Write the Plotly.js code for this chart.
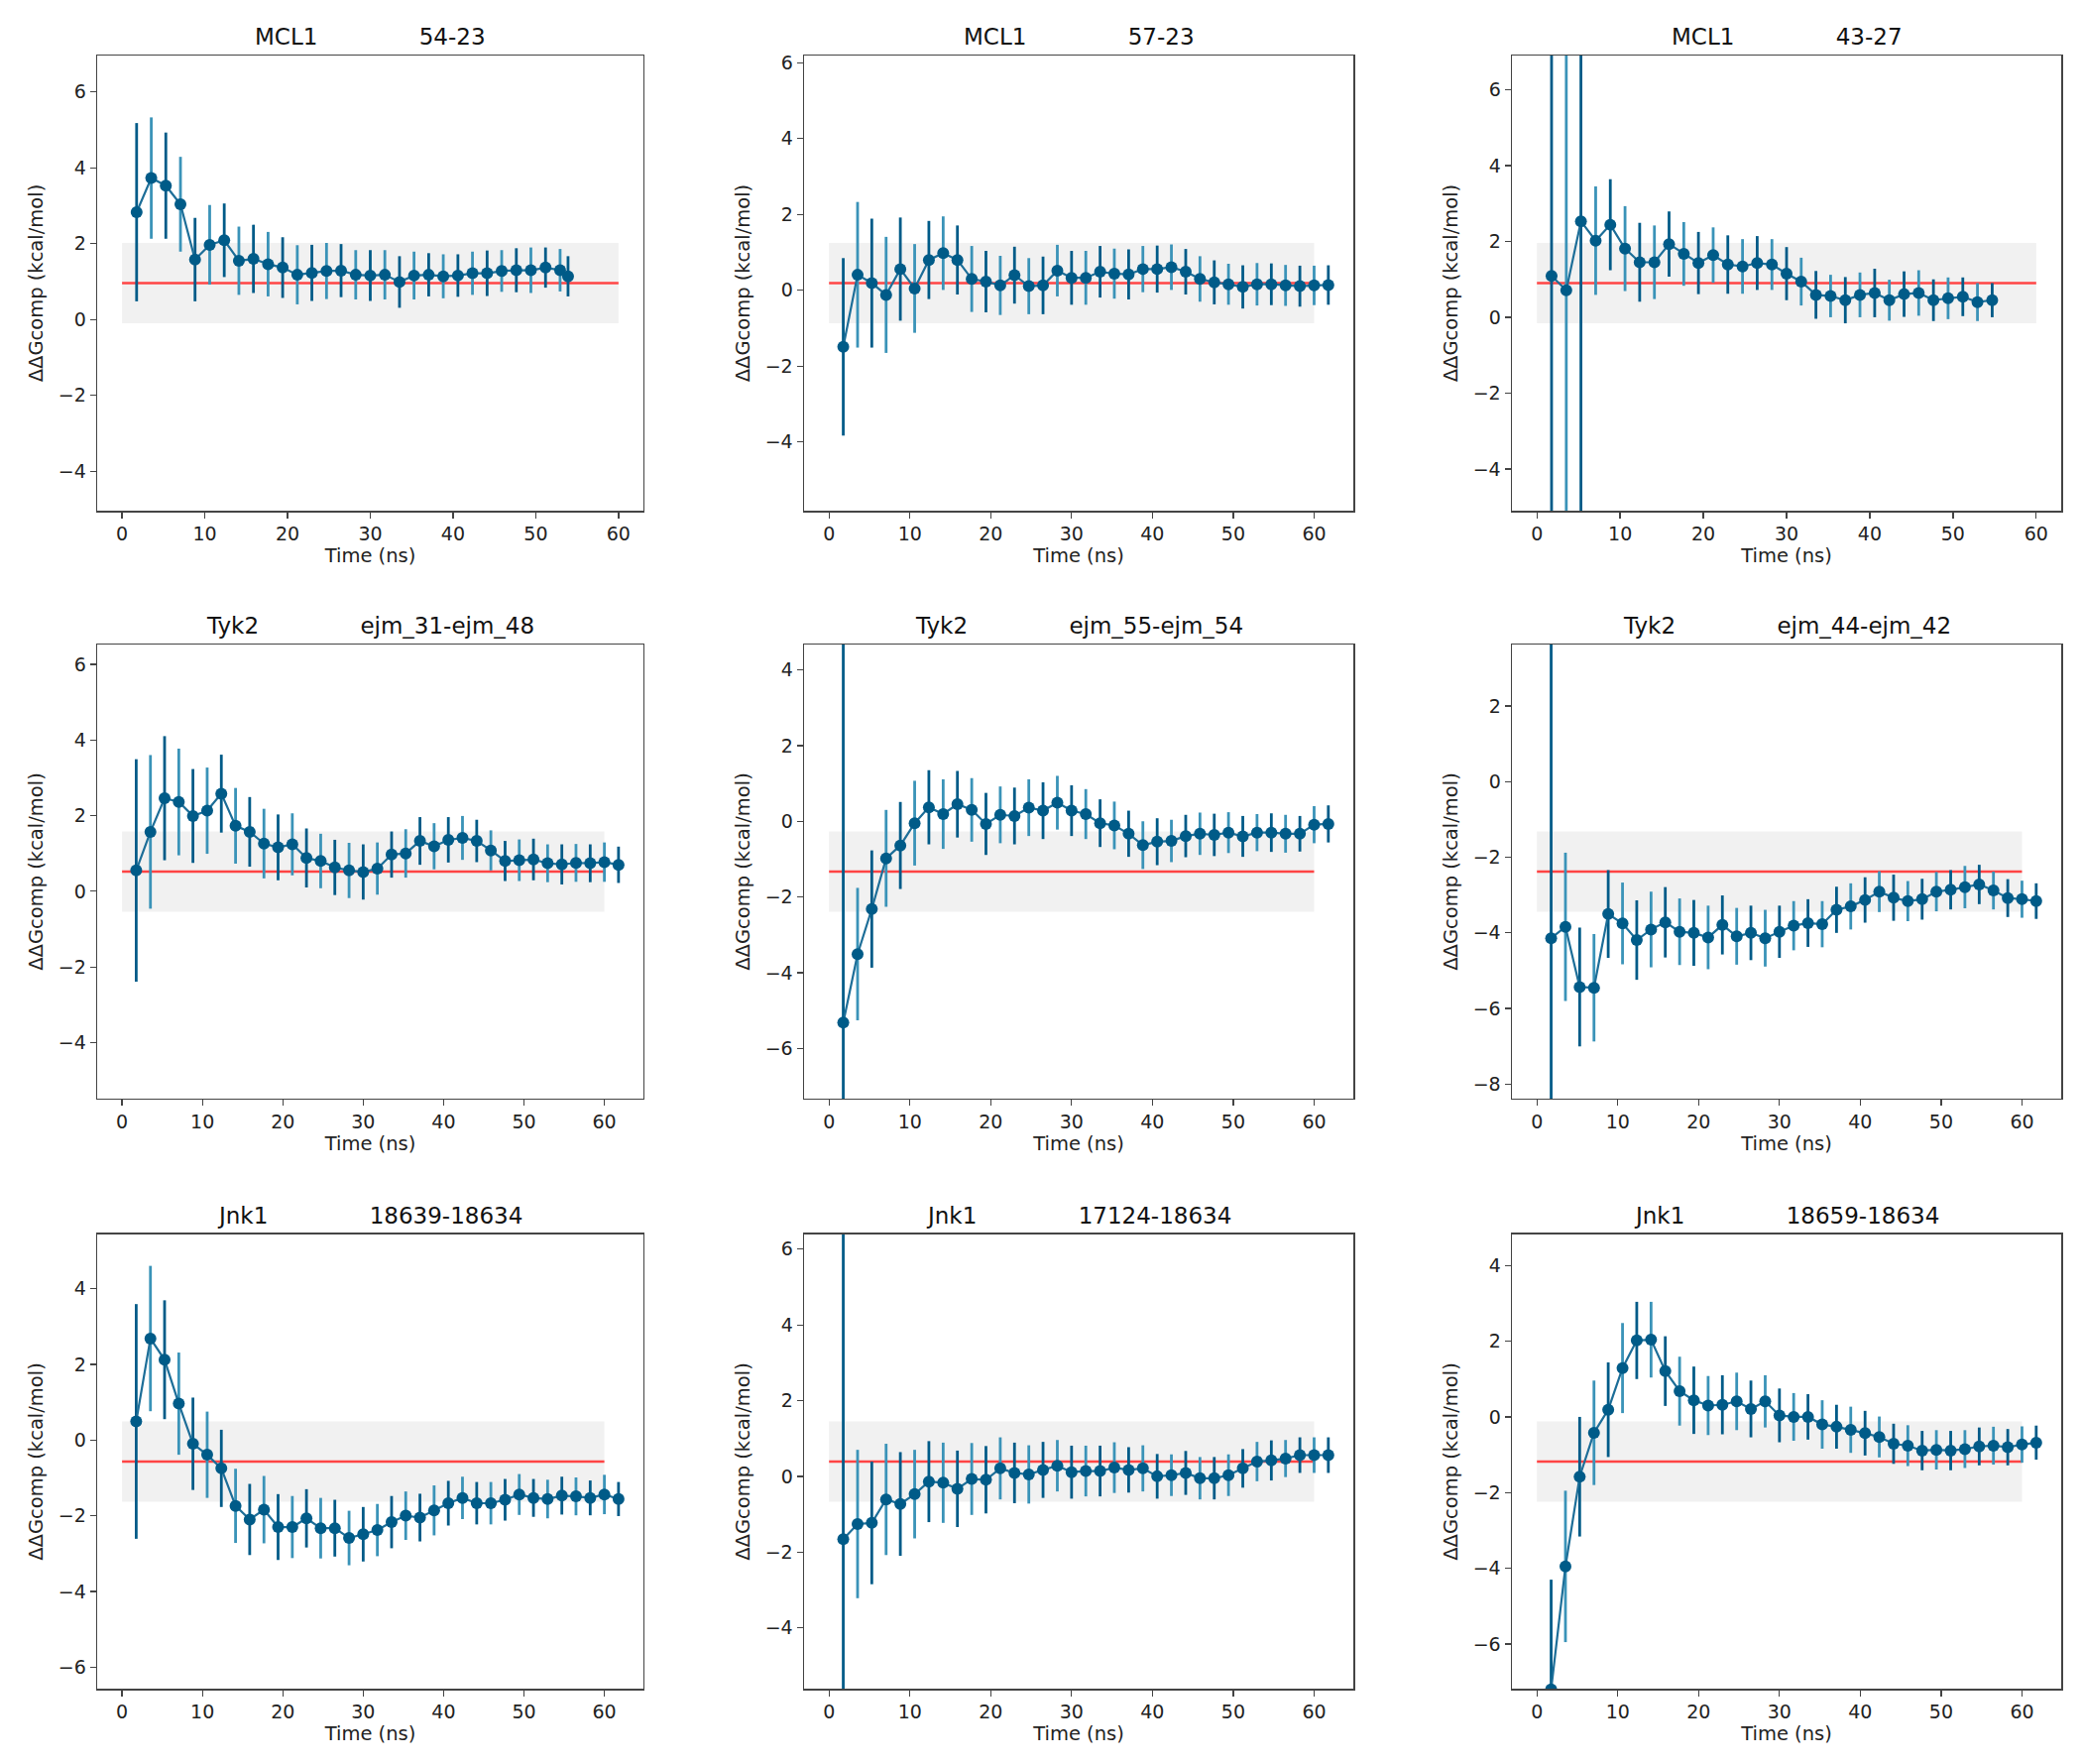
<!DOCTYPE html>
<html>
<head>
<meta charset="utf-8">
<script src="https://cdn.plot.ly/plotly-3.0.1.min.js"></script>
<style>body{margin:0;background:#fff}</style>
</head>
<body>
<div id="chart" style="width:2100px;height:1779px"></div>
<script>
// sampling times (ns)
var time35 = [1.76, 3.53, 5.29, 7.06, 8.82, 10.59, 12.35, 14.12, 15.88, 17.65, 19.41, 21.18, 22.94, 24.71, 26.47, 28.24, 30.0, 31.76, 33.53, 35.29, 37.06, 38.82, 40.59, 42.35, 44.12, 45.88, 47.65, 49.41, 51.18, 52.94, 54.71, 56.47, 58.24, 60.0, 61.76];
var time_54_23 = [1.76, 3.53, 5.29, 7.06, 8.82, 10.59, 12.35, 14.12, 15.88, 17.65, 19.41, 21.18, 22.94, 24.71, 26.47, 28.24, 30.0, 31.76, 33.53, 35.29, 37.06, 38.82, 40.59, 42.35, 44.12, 45.88, 47.65, 49.41, 51.18, 52.94, 53.9];
var time_43_27 = [1.76, 3.53, 5.29, 7.06, 8.82, 10.59, 12.35, 14.12, 15.88, 17.65, 19.41, 21.18, 22.94, 24.71, 26.47, 28.24, 30.0, 31.76, 33.53, 35.29, 37.06, 38.82, 40.59, 42.35, 44.12, 45.88, 47.65, 49.41, 51.18, 52.94, 54.71];

// MCL1
var mcl1_54_23 = [2.83, 3.73, 3.53, 3.04, 1.58, 1.97, 2.09, 1.55, 1.6, 1.46, 1.37, 1.18, 1.23, 1.28, 1.29, 1.18, 1.16, 1.18, 0.99, 1.16, 1.18, 1.14, 1.16, 1.22, 1.22, 1.28, 1.3, 1.3, 1.37, 1.3, 1.14];
var mcl1_54_23_err = [2.35, 1.6, 1.4, 1.25, 1.1, 1.05, 0.97, 0.9, 0.9, 0.85, 0.8, 0.78, 0.74, 0.74, 0.7, 0.65, 0.67, 0.65, 0.68, 0.63, 0.57, 0.58, 0.56, 0.57, 0.6, 0.55, 0.58, 0.6, 0.53, 0.56, 0.53];
var mcl1_57_23 = [-1.49, 0.41, 0.19, -0.12, 0.56, 0.05, 0.8, 0.98, 0.8, 0.3, 0.23, 0.13, 0.4, 0.11, 0.13, 0.52, 0.33, 0.33, 0.49, 0.44, 0.42, 0.56, 0.56, 0.61, 0.49, 0.3, 0.21, 0.16, 0.09, 0.16, 0.16, 0.13, 0.11, 0.13, 0.14];
var mcl1_57_23_err = [2.34, 1.92, 1.7, 1.53, 1.36, 1.17, 1.03, 0.97, 0.91, 0.87, 0.81, 0.78, 0.75, 0.74, 0.76, 0.68, 0.71, 0.71, 0.68, 0.66, 0.66, 0.61, 0.62, 0.6, 0.6, 0.6, 0.58, 0.54, 0.57, 0.56, 0.55, 0.54, 0.54, 0.52, 0.52];
var mcl1_43_27 = [1.09, 0.71, 2.53, 2.02, 2.44, 1.81, 1.45, 1.45, 1.93, 1.67, 1.43, 1.64, 1.39, 1.34, 1.43, 1.39, 1.15, 0.94, 0.59, 0.56, 0.45, 0.59, 0.64, 0.45, 0.61, 0.64, 0.45, 0.5, 0.54, 0.4, 0.45];
var mcl1_43_27_err = [9, 8, 8, 1.43, 1.2, 1.12, 1.04, 0.97, 0.86, 0.84, 0.82, 0.73, 0.77, 0.72, 0.71, 0.67, 0.7, 0.63, 0.63, 0.56, 0.61, 0.59, 0.64, 0.54, 0.6, 0.6, 0.55, 0.55, 0.51, 0.5, 0.45];

// Tyk2
var tyk2_31_48 = [0.55, 1.57, 2.46, 2.36, 1.99, 2.13, 2.58, 1.73, 1.57, 1.26, 1.16, 1.24, 0.88, 0.8, 0.63, 0.55, 0.51, 0.6, 0.97, 1.0, 1.33, 1.19, 1.36, 1.41, 1.33, 1.08, 0.8, 0.82, 0.84, 0.74, 0.71, 0.75, 0.74, 0.77, 0.7];
var tyk2_31_48_err = [2.94, 2.03, 1.64, 1.41, 1.24, 1.14, 1.03, 1.0, 0.92, 0.92, 0.87, 0.82, 0.78, 0.72, 0.73, 0.73, 0.73, 0.69, 0.61, 0.64, 0.63, 0.61, 0.6, 0.58, 0.56, 0.53, 0.53, 0.55, 0.55, 0.5, 0.53, 0.5, 0.5, 0.52, 0.48];
var tyk2_55_54 = [-5.32, -3.51, -2.32, -0.98, -0.64, -0.05, 0.37, 0.19, 0.45, 0.3, -0.07, 0.17, 0.14, 0.36, 0.28, 0.49, 0.28, 0.19, -0.05, -0.11, -0.33, -0.63, -0.54, -0.52, -0.39, -0.33, -0.36, -0.3, -0.4, -0.3, -0.3, -0.33, -0.33, -0.09, -0.07];
var tyk2_55_54_err = [12, 1.75, 1.55, 1.28, 1.15, 1.12, 0.98, 0.92, 0.88, 0.84, 0.82, 0.75, 0.75, 0.75, 0.75, 0.71, 0.67, 0.66, 0.63, 0.63, 0.61, 0.63, 0.62, 0.56, 0.56, 0.56, 0.56, 0.54, 0.54, 0.49, 0.51, 0.5, 0.47, 0.49, 0.49];
var tyk2_44_42 = [-4.14, -3.84, -5.43, -5.45, -3.5, -3.75, -4.19, -3.91, -3.72, -3.97, -4.0, -4.12, -3.79, -4.09, -4.0, -4.14, -3.97, -3.81, -3.74, -3.77, -3.39, -3.3, -3.13, -2.91, -3.07, -3.16, -3.11, -2.91, -2.86, -2.79, -2.72, -2.88, -3.08, -3.11, -3.16];
var tyk2_44_42_err = [12, 1.96, 1.57, 1.42, 1.16, 1.08, 1.05, 1.0, 0.93, 0.88, 0.87, 0.84, 0.78, 0.75, 0.72, 0.75, 0.69, 0.65, 0.63, 0.61, 0.61, 0.61, 0.6, 0.54, 0.61, 0.53, 0.54, 0.52, 0.52, 0.56, 0.52, 0.5, 0.5, 0.49, 0.47];

// Jnk1
var jnk1_18639_18634 = [0.49, 2.68, 2.12, 0.96, -0.1, -0.39, -0.75, -1.74, -2.1, -1.84, -2.3, -2.3, -2.07, -2.33, -2.33, -2.59, -2.49, -2.38, -2.17, -2.0, -2.05, -1.86, -1.67, -1.53, -1.67, -1.67, -1.58, -1.44, -1.53, -1.56, -1.47, -1.49, -1.53, -1.44, -1.56];
var jnk1_18639_18634_err = [3.1, 1.92, 1.57, 1.35, 1.22, 1.14, 1.02, 0.98, 0.94, 0.89, 0.87, 0.82, 0.77, 0.8, 0.75, 0.72, 0.72, 0.69, 0.69, 0.64, 0.63, 0.66, 0.59, 0.56, 0.56, 0.56, 0.55, 0.54, 0.5, 0.51, 0.5, 0.5, 0.46, 0.52, 0.45];
var jnk1_17124_18634 = [-1.66, -1.26, -1.23, -0.61, -0.73, -0.47, -0.14, -0.17, -0.33, -0.07, -0.09, 0.21, 0.09, 0.05, 0.17, 0.28, 0.11, 0.14, 0.14, 0.23, 0.17, 0.21, 0.0, 0.03, 0.09, -0.05, -0.05, 0.03, 0.21, 0.39, 0.42, 0.47, 0.56, 0.56, 0.56];
var jnk1_17124_18634_err = [9, 1.96, 1.62, 1.47, 1.37, 1.17, 1.07, 1.06, 1.01, 0.95, 0.89, 0.82, 0.8, 0.77, 0.74, 0.68, 0.7, 0.67, 0.67, 0.67, 0.6, 0.61, 0.59, 0.55, 0.58, 0.56, 0.56, 0.55, 0.51, 0.52, 0.53, 0.49, 0.47, 0.47, 0.47];
var jnk1_18659_18634 = [-7.2, -3.95, -1.58, -0.42, 0.19, 1.29, 2.02, 2.04, 1.21, 0.68, 0.44, 0.3, 0.32, 0.41, 0.21, 0.41, 0.04, 0.0, 0.0, -0.2, -0.26, -0.34, -0.43, -0.53, -0.71, -0.76, -0.89, -0.87, -0.89, -0.85, -0.78, -0.76, -0.8, -0.73, -0.68];
var jnk1_18659_18634_err = [2.9, 2.0, 1.58, 1.38, 1.25, 1.19, 1.02, 1.0, 0.92, 0.91, 0.89, 0.78, 0.78, 0.76, 0.75, 0.69, 0.71, 0.63, 0.6, 0.64, 0.58, 0.61, 0.59, 0.54, 0.53, 0.54, 0.52, 0.52, 0.52, 0.5, 0.5, 0.5, 0.48, 0.48, 0.45];

// experimental reference ddG and its band
var targets = ["MCL1", "MCL1", "MCL1", "Tyk2", "Tyk2", "Tyk2", "Jnk1", "Jnk1", "Jnk1"];
var edges = ["54-23", "57-23", "43-27", "ejm_31-ejm_48", "ejm_55-ejm_54", "ejm_44-ejm_42", "18639-18634", "17124-18634", "18659-18634"];
var refDG = [0.96, 0.19, 0.9, 0.52, -1.33, -2.38, -0.57, 0.39, -1.18];
var bandHalf = 1.06;
var bandX = [0, 60];

var panels = [
  [time_54_23, mcl1_54_23, mcl1_54_23_err],
  [time35, mcl1_57_23, mcl1_57_23_err],
  [time_43_27, mcl1_43_27, mcl1_43_27_err],
  [time35, tyk2_31_48, tyk2_31_48_err],
  [time35, tyk2_55_54, tyk2_55_54_err],
  [time35, tyk2_44_42, tyk2_44_42_err],
  [time35, jnk1_18639_18634, jnk1_18639_18634_err],
  [time35, jnk1_17124_18634, jnk1_17124_18634_err],
  [time35, jnk1_18659_18634, jnk1_18659_18634_err]
];

var colDom = [[0.0467, 0.3090], [0.3862, 0.6500], [0.7262, 0.9900]];
var rowDom = [[0.7105, 0.9685], [0.3772, 0.6346], [0.0427, 0.3002]];

var darkBlue = "#005b88";
var lightBlue = "#3a93b8";
var font = "DejaVu Sans, sans-serif";

function every(arr, parity) {
  return arr.map(function(v, i) { return i % 2 === parity ? v : null; });
}

var traces = [];
var layout = {
  width: 2100, height: 1779,
  margin: {l: 0, r: 0, t: 0, b: 0},
  paper_bgcolor: "#fff", plot_bgcolor: "#fff",
  showlegend: false,
  font: {family: font, size: 19, color: "#222"},
  annotations: []
};

panels.forEach(function(p, i) {
  var t = p[0], dg = p[1], err = p[2];
  var n = i === 0 ? "" : String(i + 1);
  var xa = "x" + n, ya = "y" + n;
  var ref = refDG[i];

  traces.push({
    x: [bandX[0], bandX[1], bandX[1], bandX[0]],
    y: [ref - bandHalf, ref - bandHalf, ref + bandHalf, ref + bandHalf],
    fill: "toself", fillcolor: "#f1f1f1", mode: "lines",
    line: {width: 0}, hoverinfo: "skip", xaxis: xa, yaxis: ya
  });
  traces.push({
    x: bandX, y: [ref, ref], mode: "lines",
    line: {color: "#ff4444", width: 2.6}, xaxis: xa, yaxis: ya
  });
  [[0, darkBlue], [1, lightBlue]].forEach(function(e) {
    traces.push({
      x: every(t, e[0]), y: every(dg, e[0]), mode: "markers",
      marker: {size: 1, color: "rgba(0,0,0,0)"},
      error_y: {type: "data", array: every(err, e[0]), color: e[1], thickness: 2.8, width: 0},
      xaxis: xa, yaxis: ya
    });
  });
  traces.push({
    x: t, y: dg, mode: "lines+markers",
    line: {color: "#1d6e98", width: 2.2},
    marker: {size: 12, color: darkBlue},
    xaxis: xa, yaxis: ya
  });

  var col = i % 3, row = Math.floor(i / 3);
  var xmax = Math.max(bandX[1], t[t.length - 1]);
  var pad = 0.05 * xmax;
  var axisStyle = {
    showline: true, mirror: true, linecolor: "#444", linewidth: 1.5,
    ticks: "outside", ticklen: 6, tickwidth: 1.3, tickcolor: "#444",
    showgrid: false, zeroline: false,
    tickfont: {family: font, size: 19, color: "#222"}
  };
  layout["xaxis" + n] = Object.assign({}, axisStyle, {
    domain: colDom[col], anchor: ya, range: [-pad, xmax + pad],
    tick0: 0, dtick: 10,
    title: {text: "Time (ns)", font: {family: font, size: 19.5, color: "#222"}, standoff: 3}
  });
  layout["yaxis" + n] = Object.assign({}, axisStyle, {
    domain: rowDom[row], anchor: xa, range: [ref - 6, ref + 6],
    tick0: 0, dtick: 2,
    title: {text: "ΔΔGcomp (kcal/mol)", font: {family: font, size: 19.5, color: "#222"}, standoff: 10}
  });
  layout.annotations.push({
    xref: "paper", yref: "paper",
    x: (colDom[col][0] + colDom[col][1]) / 2, y: rowDom[row][1],
    xanchor: "center", yanchor: "bottom", yshift: 4, showarrow: false,
    text: targets[i] + "\u00a0".repeat(14) + edges[i],
    font: {family: font, size: 23, color: "#111"}
  });
});

Plotly.newPlot("chart", traces, layout, {staticPlot: true});
</script>
</body>
</html>
